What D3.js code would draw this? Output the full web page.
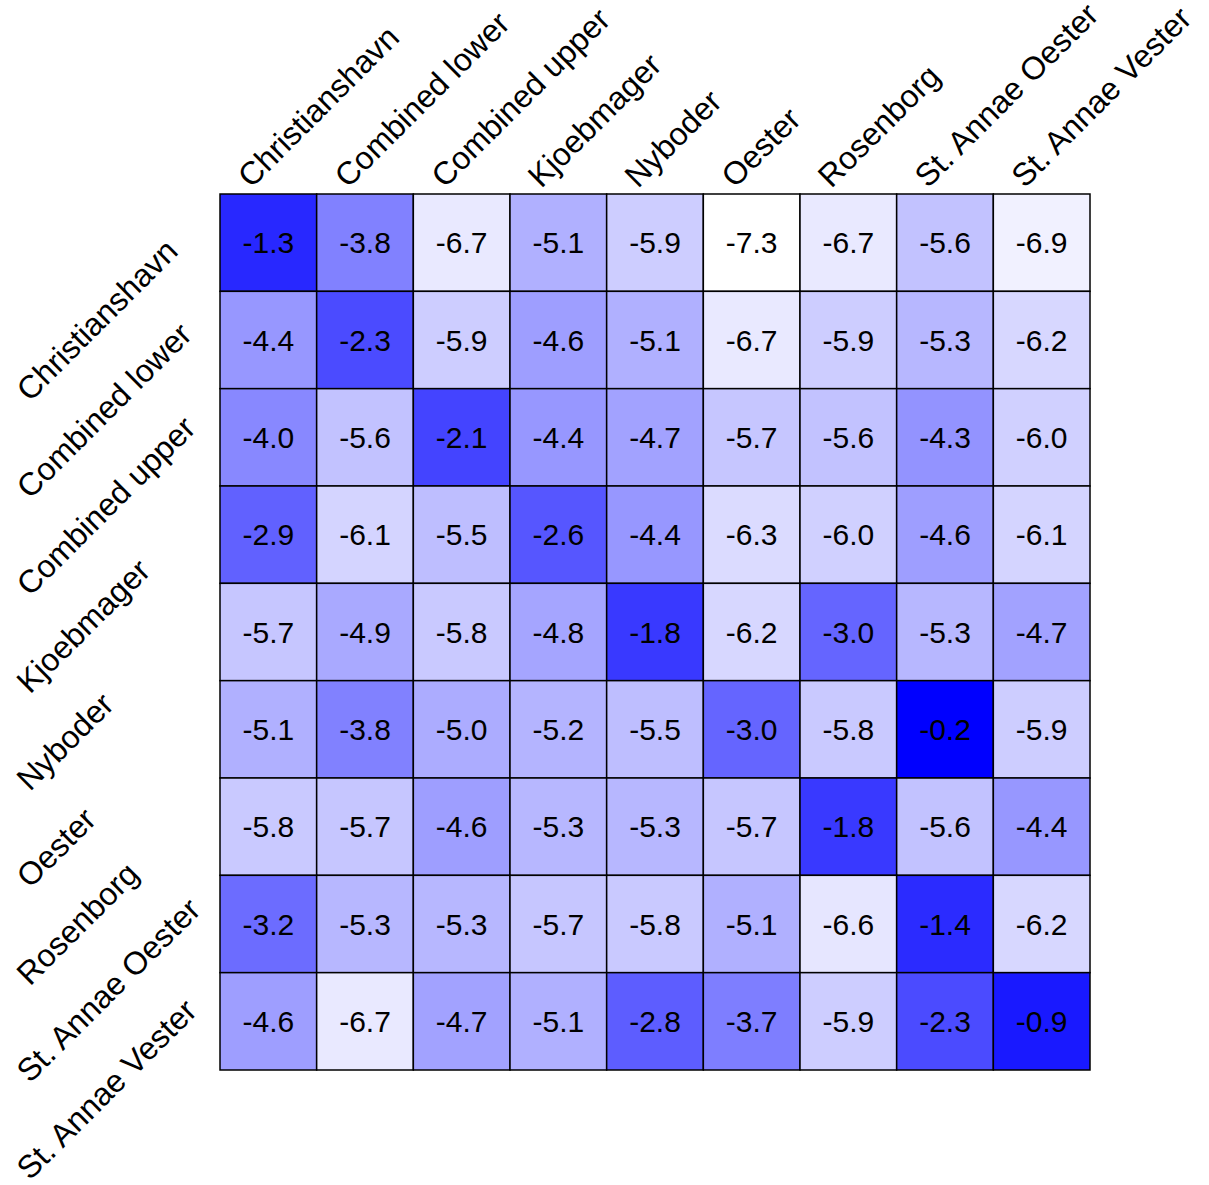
<!DOCTYPE html>
<html lang="en">
<head>
<meta charset="utf-8">
<title>Heatmap</title>
<script src="https://cdn.jsdelivr.net/npm/d3@7"></script>
<style>
  body { margin: 0; background: #fff; }
  text { font-family: "Liberation Sans", Arial, sans-serif; }
</style>
</head>
<body>
<div id="chart"></div>
<script>
// parish names, same order for rows and columns
var parishes = ["Christianshavn", "Combined lower", "Combined upper", "Kjoebmager",
  "Nyboder", "Oester", "Rosenborg", "St. Annae Oester", "St. Annae Vester"];

// one array per row
var rowChristianshavn = [-1.3, -3.8, -6.7, -5.1, -5.9, -7.3, -6.7, -5.6, -6.9];
var rowCombinedLower  = [-4.4, -2.3, -5.9, -4.6, -5.1, -6.7, -5.9, -5.3, -6.2];
var rowCombinedUpper  = [-4.0, -5.6, -2.1, -4.4, -4.7, -5.7, -5.6, -4.3, -6.0];
var rowKjoebmager     = [-2.9, -6.1, -5.5, -2.6, -4.4, -6.3, -6.0, -4.6, -6.1];
var rowNyboder        = [-5.7, -4.9, -5.8, -4.8, -1.8, -6.2, -3.0, -5.3, -4.7];
var rowOester         = [-5.1, -3.8, -5.0, -5.2, -5.5, -3.0, -5.8, -0.2, -5.9];
var rowRosenborg      = [-5.8, -5.7, -4.6, -5.3, -5.3, -5.7, -1.8, -5.6, -4.4];
var rowStAnnaeOester  = [-3.2, -5.3, -5.3, -5.7, -5.8, -5.1, -6.6, -1.4, -6.2];
var rowStAnnaeVester  = [-4.6, -6.7, -4.7, -5.1, -2.8, -3.7, -5.9, -2.3, -0.9];

var rows = [rowChristianshavn, rowCombinedLower, rowCombinedUpper, rowKjoebmager,
  rowNyboder, rowOester, rowRosenborg, rowStAnnaeOester, rowStAnnaeVester];

var cells = [];
rows.forEach(function(r, i) {
  r.forEach(function(v, j) {
    cells.push({row: parishes[i], col: parishes[j], value: v});
  });
});

var w = 1209, h = 1185;
var gridLeft = 220, gridRight = 1090, gridTop = 194, gridBottom = 1070;

var x = d3.scaleBand().domain(parishes).range([gridLeft, gridRight]);
var y = d3.scaleBand().domain(parishes).range([gridTop, gridBottom]);

var color = d3.scaleLinear()
  .domain([d3.min(cells, function(d) { return d.value; }), d3.max(cells, function(d) { return d.value; })])
  .range(["#ffffff", "#0000ff"]);

var svg = d3.select("#chart").append("svg")
  .attr("width", w)
  .attr("height", h);

svg.selectAll("rect.cell")
  .data(cells)
  .enter()
  .append("rect")
  .attr("class", "cell")
  .attr("x", function(d) { return x(d.col); })
  .attr("y", function(d) { return y(d.row); })
  .attr("width", x.bandwidth())
  .attr("height", y.bandwidth())
  .attr("fill", function(d) { return color(d.value); })
  .attr("stroke", "#000")
  .attr("stroke-width", 1.5);

svg.selectAll("text.val")
  .data(cells)
  .enter()
  .append("text")
  .attr("class", "val")
  .attr("x", function(d) { return x(d.col) + x.bandwidth() / 2; })
  .attr("y", function(d) { return y(d.row) + y.bandwidth() / 2; })
  .attr("dy", "0.36em")
  .attr("text-anchor", "middle")
  .attr("font-size", 30)
  .attr("fill", "#000")
  .text(function(d) { return d.value.toFixed(1); });

// column labels along the top
svg.selectAll("text.collab")
  .data(parishes)
  .enter()
  .append("text")
  .attr("class", "collab")
  .attr("font-size", 32)
  .attr("text-anchor", "start")
  .attr("transform", function(d) {
    var cx = x(d) + x.bandwidth() / 2 - 17;
    return "translate(" + cx + ",189) rotate(-45)";
  })
  .text(function(d) { return d; });

// row labels on the left (slanted, shifted down like the original)
svg.selectAll("text.rowlab")
  .data(parishes)
  .enter()
  .append("text")
  .attr("class", "rowlab")
  .attr("font-size", 32)
  .attr("text-anchor", "start")
  .attr("transform", function(d) {
    var cy = y(d) + y.bandwidth() / 2 + 160;
    return "translate(30," + cy + ") rotate(-45)";
  })
  .text(function(d) { return d; });
</script>
</body>
</html>
